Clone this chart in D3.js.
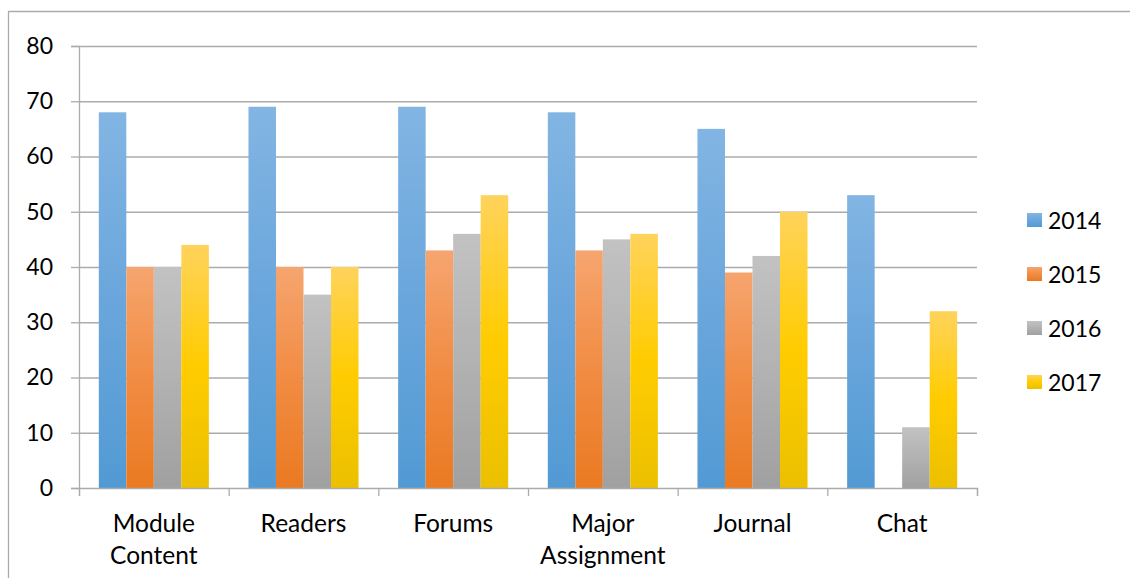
<!DOCTYPE html>
<html>
<head>
<meta charset="utf-8">
<script src="https://cdn.jsdelivr.net/npm/d3@7"></script>
<style>
  html, body { margin: 0; padding: 0; background: #fff; }
  svg { display: block; }
  text { font-family: Lato, "Open Sans", sans-serif; fill: #000; }
</style>
</head>
<body>
<svg id="chart" width="1130" height="578"></svg>
<script>
// Chart data
const categories = [["Module", "Content"], ["Readers"], ["Forums"], ["Major", "Assignment"], ["Journal"], ["Chat"]];
const series = ["2014", "2015", "2016", "2017"];
const values2014 = [68, 69, 69, 68, 65, 53];
const values2015 = [40, 40, 43, 43, 39, null];
const values2016 = [40, 35, 46, 45, 42, 11];
const values2017 = [44, 40, 53, 46, 50, 32];
const yTicks = [0, 10, 20, 30, 40, 50, 60, 70, 80];

const seriesValues = [values2014, values2015, values2016, values2017];
// light top, base middle, dark bottom for each series fill
const palette = [
  ["#82B5E3", "#6AA6DC", "#529AD4"],
  ["#F6A56F", "#F18C43", "#EA7A22"],
  ["#C2C2C2", "#B2B2B2", "#A0A0A0"],
  ["#FFD35C", "#FFCC00", "#EBC000"]
];

const svg = d3.select("#chart");
const plot = { left: 79, right: 977, top: 46, bottom: 488 };

// frame lines (top and left edges of the chart area)
svg.append("path")
  .attr("d", "M8.5,578 L8.5,11.5 L1130,11.5")
  .attr("fill", "none").attr("stroke", "#ABABAB").attr("stroke-width", 1.3);

const defs = svg.append("defs");
series.forEach((s, i) => {
  const g = defs.append("linearGradient")
    .attr("id", "grad" + s).attr("x1", 0).attr("y1", 0).attr("x2", 0).attr("y2", 1);
  g.append("stop").attr("offset", "0%").attr("stop-color", palette[i][0]);
  g.append("stop").attr("offset", "50%").attr("stop-color", palette[i][1]);
  g.append("stop").attr("offset", "100%").attr("stop-color", palette[i][2]);
});

const y = d3.scaleLinear().domain([0, 80]).range([plot.bottom, plot.top]);
const x0 = d3.scaleBand().domain(d3.range(categories.length)).range([plot.left, plot.right]).padding(0);
const x1 = d3.scaleBand().domain(series).range([0, x0.bandwidth()]).paddingInner(0).paddingOuter(0.72);
const xb = d3.scaleLinear().domain([0, categories.length]).range([plot.left, plot.right]);

// horizontal gridlines with left tick marks
const yAxis = svg.append("g")
  .attr("transform", `translate(${plot.left},0)`)
  .call(d3.axisLeft(y).tickValues(yTicks).tickSize(8).tickPadding(18).tickFormat(d3.format("d")));
yAxis.select(".domain").attr("stroke", "#ABABAB").attr("stroke-width", 1.3);
yAxis.selectAll(".tick line").attr("stroke", "#ABABAB").attr("stroke-width", 1.3);
yAxis.selectAll(".tick text").style("font-size", "23px").attr("fill", "#000");
yAxis.selectAll(".tick").append("line")
  .attr("x1", 0).attr("x2", plot.right - plot.left)
  .attr("stroke", "#ABABAB").attr("stroke-width", 1.3)
  .filter(d => d === 0).remove();

// bars
const groups = svg.append("g").selectAll("g")
  .data(categories.map((c, i) => i))
  .join("g")
  .attr("transform", i => `translate(${x0(i)},0)`);

groups.selectAll("rect")
  .data(i => series.map((s, k) => ({ s, v: seriesValues[k][i] })).filter(d => d.v != null && d.v > 0))
  .join("rect")
  .attr("x", d => x1(d.s))
  .attr("width", x1.bandwidth())
  .attr("y", d => y(d.v))
  .attr("height", d => y(0) - y(d.v))
  .attr("fill", d => `url(#grad${d.s})`);

// category axis with boundary ticks
const xAxis = svg.append("g")
  .attr("transform", `translate(0,${plot.bottom})`)
  .call(d3.axisBottom(xb).tickValues(d3.range(categories.length + 1)).tickSize(8).tickFormat(""));
xAxis.select(".domain").attr("stroke", "#ABABAB").attr("stroke-width", 1.3);
xAxis.selectAll(".tick line").attr("stroke", "#ABABAB").attr("stroke-width", 1.3);

// category labels
const labels = svg.append("g").selectAll("text")
  .data(categories.map((c, i) => ({ c, i })))
  .join("text")
  .attr("x", d => x0(d.i) + x0.bandwidth() / 2)
  .attr("y", 532)
  .attr("text-anchor", "middle")
  .style("font-size", "24.5px");
labels.selectAll("tspan")
  .data(d => d.c.map((line, k) => ({ line, k, x: x0(d.i) + x0.bandwidth() / 2 })))
  .join("tspan")
  .attr("x", d => d.x)
  .attr("dy", d => d.k === 0 ? 0 : 32)
  .text(d => d.line);

// legend
const legend = svg.append("g").selectAll("g")
  .data(series)
  .join("g")
  .attr("transform", (s, i) => `translate(1027,${213 + i * 54})`);
legend.append("rect")
  .attr("width", 15).attr("height", 14)
  .attr("fill", s => `url(#grad${s})`);
legend.append("text")
  .attr("x", 21).attr("y", 16)
  .style("font-size", "23px")
  .text(s => s);
</script>
</body>
</html>
